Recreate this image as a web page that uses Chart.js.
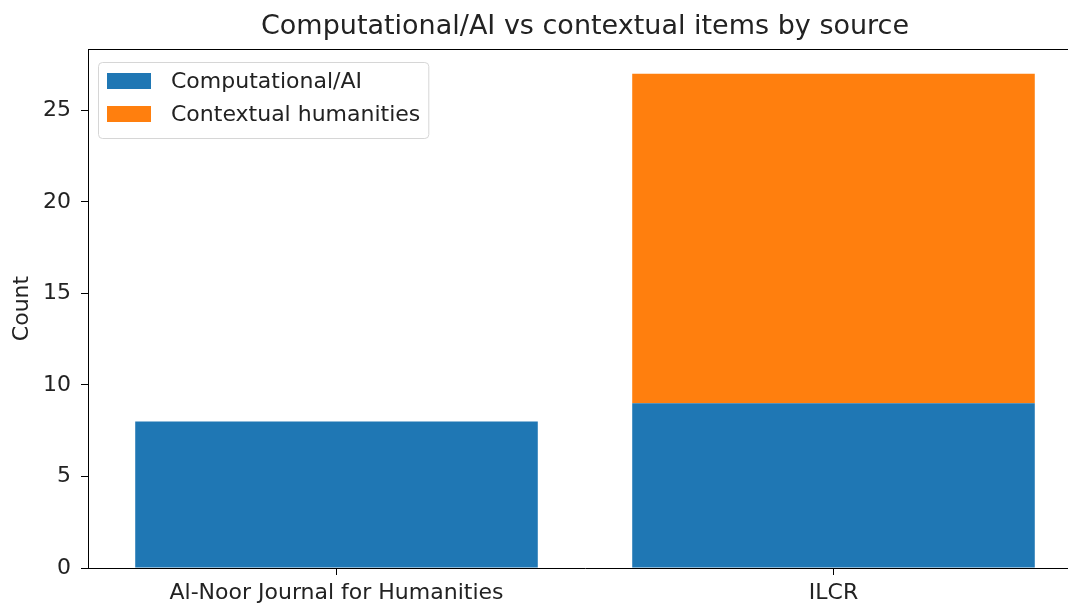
<!DOCTYPE html>
<html>
<head>
<meta charset="utf-8">
<script src="https://cdn.jsdelivr.net/npm/chart.js@4/dist/chart.umd.min.js"></script>
<style>
  html, body { margin: 0; padding: 0; background: #fff; overflow: hidden; }
  #wrap { width: 1096px; height: 606px; }
</style>
</head>
<body>
<div id="wrap"><canvas id="sourceChart"></canvas></div>
<script>
const categories = ["Al-Noor Journal for Humanities", "ILCR"];
const computationalValues = [8, 9];
const contextualValues = [0, 18];
const yTicks = [0, 5, 10, 15, 20, 25];
const chartTitle = "Computational/AI vs contextual items by source";

const FONT = "'DejaVu Sans', sans-serif";

// title centred over the plot area (matplotlib style), not the whole canvas
const axesTitle = {
  id: "axesTitle",
  afterDraw(chart) {
    const { ctx, chartArea: a } = chart;
    ctx.save();
    ctx.font = "27px " + FONT;
    ctx.fillStyle = "#222";
    ctx.textAlign = "center";
    ctx.textBaseline = "alphabetic";
    ctx.fillText(chartTitle, (a.left + a.right) / 2, 34);
    ctx.restore();
  }
};

// legend drawn inside the plot, upper left
const innerLegend = {
  id: "innerLegend",
  afterDraw(chart) {
    const { ctx, chartArea } = chart;
    const sets = chart.data.datasets;
    ctx.save();
    ctx.font = "22px " + FONT;
    const textW = Math.max(...sets.map(d => ctx.measureText(d.label).width));
    const x = chartArea.left + 10;
    const y = chartArea.top + 13;
    const w = 73 + textW + 8;
    const h = 76;
    ctx.fillStyle = "rgba(255,255,255,0.8)";
    ctx.strokeStyle = "#d6d6d6";
    ctx.lineWidth = 1;
    ctx.beginPath();
    ctx.roundRect(x + 0.5, y + 0.5, w, h, 4);
    ctx.fill();
    ctx.stroke();
    sets.forEach((d, i) => {
      const cy = y + 19 + i * 33;
      ctx.fillStyle = d.backgroundColor;
      ctx.fillRect(x + 9, cy - 8, 44, 16);
      ctx.fillStyle = "#222";
      ctx.textBaseline = "middle";
      ctx.fillText(d.label, x + 73, cy + 1);
    });
    ctx.restore();
  }
};

// top + right spines
const frame = {
  id: "frame",
  afterDraw(chart) {
    const { ctx, chartArea: a } = chart;
    ctx.save();
    ctx.strokeStyle = "#000";
    ctx.lineWidth = 1;
    ctx.beginPath();
    ctx.moveTo(a.left, a.top + 0.5);
    ctx.lineTo(a.right, a.top + 0.5);
    ctx.lineTo(a.right, a.bottom);
    ctx.stroke();
    ctx.restore();
  }
};

new Chart(document.getElementById("sourceChart"), {
  type: "bar",
  data: {
    labels: categories,
    datasets: [
      { label: "Computational/AI", data: computationalValues, backgroundColor: "#1f77b4" },
      { label: "Contextual humanities", data: contextualValues, backgroundColor: "#ff7f0e" }
    ]
  },
  options: {
    responsive: true,
    maintainAspectRatio: false,
    animation: false,
    events: [],
    datasets: { bar: { categoryPercentage: 1, barPercentage: 0.81 } },
    layout: { padding: { left: 0, right: 14, top: 49, bottom: 0 } },
    plugins: {
      legend: { display: false },
      tooltip: { enabled: false },
      title: { display: false }
    },
    scales: {
      x: {
        stacked: true,
        offset: true,
        afterFit: s => { s.height = 38; },
        grid: { display: true, offset: false, drawOnChartArea: false, color: "#000", tickLength: 7 },
        border: { display: true, color: "#000", width: 1 },
        ticks: { color: "#222", font: { family: FONT, size: 22 }, padding: 5, maxRotation: 0 }
      },
      y: {
        stacked: true,
        min: 0,
        max: 28.35,
        afterFit: s => { s.width = 88; },
        afterBuildTicks: s => { s.ticks = yTicks.map(v => ({ value: v })); },
        title: { display: true, text: "Count", color: "#222", font: { family: FONT, size: 22 }, padding: { top: 9, bottom: 0 } },
        grid: { display: true, drawOnChartArea: false, color: "#000", tickLength: 7 },
        border: { display: true, color: "#000", width: 1 },
        ticks: { color: "#222", font: { family: FONT, size: 22 }, padding: 10 }
      }
    }
  },
  plugins: [axesTitle, innerLegend, frame]
});
</script>
</body>
</html>
